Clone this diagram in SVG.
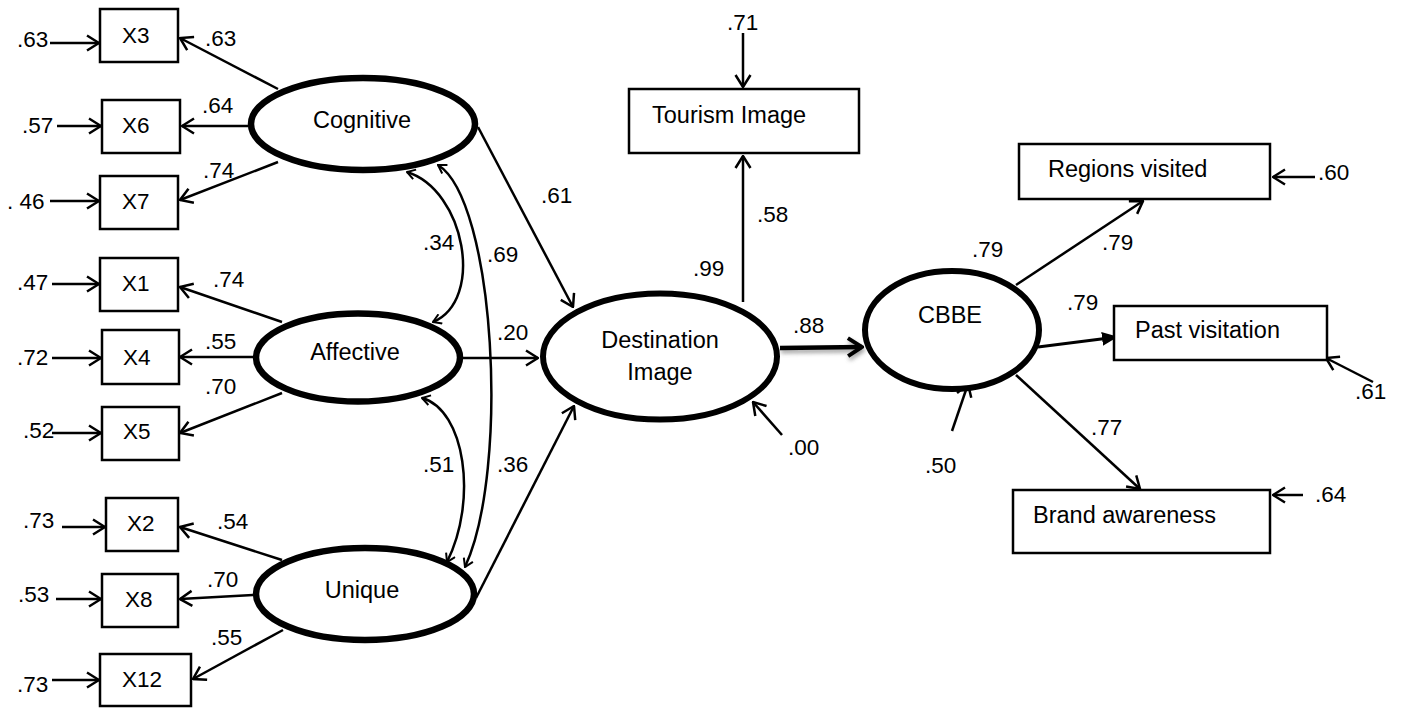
<svg xmlns="http://www.w3.org/2000/svg" width="1402" height="708" viewBox="0 0 1402 708">
<style>
text{font-family:"Liberation Sans",Arial,sans-serif;font-size:22.5px;fill:#000}
.nl{font-size:23.5px}
.box{fill:#fff;stroke:#000;stroke-width:2.5}
.lat{fill:#fff;stroke:#000;stroke-width:6.5}
.ln{fill:none;stroke:#000;stroke-width:2.5;marker-end:url(#arr)}
.cv{fill:none;stroke:#000;stroke-width:2.5;marker-start:url(#sarr);marker-end:url(#sarr)}
.mid{text-anchor:middle}
</style>
<defs>
<marker id="arr" viewBox="0 0 14 18" refX="13" refY="9" markerWidth="14" markerHeight="18" markerUnits="userSpaceOnUse" orient="auto">
<path d="M1,1.5 L13,9 L1,16.5" fill="none" stroke="#000" stroke-width="2.5"/>
</marker>
<marker id="sarr" viewBox="0 0 10 12" refX="9" refY="6" markerWidth="10" markerHeight="12" markerUnits="userSpaceOnUse" orient="auto-start-reverse">
<path d="M1,1 L9,6 L1,11" fill="none" stroke="#000" stroke-width="2"/>
</marker>
<marker id="farr" viewBox="0 0 16 14" refX="15" refY="7" markerWidth="16" markerHeight="14" markerUnits="userSpaceOnUse" orient="auto">
<path d="M0,0 L16,7 L0,14 z" fill="#000"/>
</marker>
<marker id="tarr" viewBox="0 0 18 22" refX="16" refY="11" markerWidth="18" markerHeight="22" markerUnits="userSpaceOnUse" orient="auto">
<path d="M2,2 L16,11 L2,20" fill="none" stroke="#000" stroke-width="4"/>
</marker>
<marker id="tarrs" viewBox="0 0 18 22" refX="16" refY="11" markerWidth="18" markerHeight="22" markerUnits="userSpaceOnUse" orient="auto">
<path d="M2,2 L16,11 L2,20" fill="none" stroke="#888" stroke-width="4"/>
</marker>
<filter id="blur" filterUnits="userSpaceOnUse" x="760" y="320" width="130" height="60">
<feGaussianBlur stdDeviation="2"/>
</filter>
</defs>

<g id="connectors">
<!-- error arrows left -->
<line class="ln" x1="50" y1="43" x2="99" y2="43"/>
<line class="ln" x1="57" y1="126" x2="101" y2="126"/>
<line class="ln" x1="50" y1="201" x2="99" y2="201"/>
<line class="ln" x1="52" y1="284" x2="99" y2="284"/>
<line class="ln" x1="52" y1="358" x2="101" y2="358"/>
<line class="ln" x1="52" y1="433" x2="101" y2="433"/>
<line class="ln" x1="62" y1="527" x2="105" y2="527"/>
<line class="ln" x1="56" y1="599" x2="101" y2="599"/>
<line class="ln" x1="52" y1="680" x2="99" y2="680"/>
<!-- loadings -->
<line class="ln" x1="278" y1="89" x2="180" y2="38"/>
<line class="ln" x1="248" y1="126" x2="182" y2="126"/>
<line class="ln" x1="278" y1="162" x2="180" y2="200"/>
<line class="ln" x1="282" y1="322" x2="180" y2="287"/>
<line class="ln" x1="253" y1="357" x2="180" y2="357"/>
<line class="ln" x1="282" y1="393" x2="180" y2="433"/>
<line class="ln" x1="282" y1="560" x2="180" y2="527"/>
<line class="ln" x1="253" y1="595" x2="180" y2="599"/>
<line class="ln" x1="283" y1="630" x2="193" y2="679"/>
<!-- correlations -->
<path class="cv" d="M407,172 C465,190 485,300 433,322"/>
<path class="cv" d="M438,165 C495,200 510,470 465,567"/>
<path class="cv" d="M422,398 C465,410 478,500 447,562"/>
<!-- to destination image -->
<line class="ln" x1="478" y1="127" x2="573" y2="307"/>
<line class="ln" x1="462" y1="358" x2="538" y2="358"/>
<line class="ln" x1="476" y1="598" x2="574" y2="406"/>
<!-- destination image outgoing -->
<line class="ln" x1="743" y1="302" x2="743" y2="156"/>
<line class="ln" x1="743" y1="33" x2="743" y2="87"/>
<line class="ln" x1="782" y1="435" x2="753" y2="402"/>
<line x1="781" y1="351" x2="863" y2="350" stroke="#888" stroke-width="4.5" marker-end="url(#tarrs)" filter="url(#blur)" opacity="0.8"/>
<line x1="780" y1="348" x2="862" y2="347" stroke="#000" stroke-width="4.5" marker-end="url(#tarr)"/>
<!-- CBBE outgoing -->
<line class="ln" x1="1016" y1="285" x2="1143" y2="201"/>
<line x1="1038" y1="347" x2="1117" y2="337" stroke="#000" stroke-width="3" marker-end="url(#farr)"/>
<line class="ln" x1="1016" y1="375" x2="1140" y2="489"/>
<line class="ln" x1="952" y1="431" x2="968" y2="384"/>
<line class="ln" x1="1315" y1="177" x2="1273" y2="177"/>
<line class="ln" x1="1373" y1="382" x2="1326" y2="358"/>
<line class="ln" x1="1303" y1="495" x2="1273" y2="495"/>
</g>

<g id="X3"><rect class="box" x="100" y="9" width="78" height="53"/><text x="122" y="43">X3</text></g>
<g id="X6"><rect class="box" x="102" y="100" width="78" height="53"/><text x="122" y="133">X6</text></g>
<g id="X7"><rect class="box" x="100" y="176" width="78" height="53"/><text x="122" y="209">X7</text></g>
<g id="X1"><rect class="box" x="100" y="258" width="78" height="53"/><text x="122" y="291">X1</text></g>
<g id="X4"><rect class="box" x="102" y="330" width="77" height="54"/><text x="123" y="365">X4</text></g>
<g id="X5"><rect class="box" x="102" y="407" width="77" height="53"/><text x="123" y="439">X5</text></g>
<g id="X2"><rect class="box" x="106" y="498" width="72" height="53"/><text x="127" y="531">X2</text></g>
<g id="X8"><rect class="box" x="102" y="574" width="76" height="53"/><text x="125" y="607">X8</text></g>
<g id="X12"><rect class="box" x="100" y="654" width="91" height="52"/><text x="122" y="687">X12</text></g>

<g id="Cognitive"><ellipse class="lat" cx="363" cy="124" rx="112" ry="46"/><text class="mid nl" x="362" y="128">Cognitive</text></g>
<g id="Affective"><ellipse class="lat" cx="358" cy="357.5" rx="102" ry="44"/><text class="mid nl" x="355" y="360">Affective</text></g>
<g id="Unique"><ellipse class="lat" cx="365" cy="594" rx="109" ry="46"/><text class="mid nl" x="362" y="598">Unique</text></g>
<g id="DestinationImage"><ellipse class="lat" cx="660" cy="356.5" rx="117" ry="63" style="stroke-width:6"/><text class="mid nl" x="660" y="348">Destination</text><text class="mid nl" x="660" y="380">Image</text></g>
<g id="CBBE"><ellipse class="lat" cx="952" cy="330" rx="87" ry="59" style="stroke-width:6"/><text class="mid nl" x="950" y="323">CBBE</text></g>
<g id="TourismImage"><rect class="box" x="629" y="89" width="230" height="64"/><text class="nl" x="652" y="123">Tourism Image</text></g>
<g id="RegionsVisited"><rect class="box" x="1019" y="144" width="251" height="55"/><text class="nl" x="1048" y="177">Regions visited</text></g>
<g id="PastVisitation"><rect class="box" x="1114" y="306" width="213" height="54"/><text class="nl" x="1135" y="338">Past visitation</text></g>
<g id="BrandAwareness"><rect class="box" x="1013" y="490" width="257" height="63"/><text class="nl" x="1033" y="523">Brand awareness</text></g>

<g id="labels">
<text x="17" y="47">.63</text>
<text x="205" y="46">.63</text>
<text x="22" y="133">.57</text>
<text x="202" y="113">.64</text>
<text x="203" y="178">.74</text>
<text x="7" y="209">. 46</text>
<text x="17" y="290">.47</text>
<text x="213" y="287">.74</text>
<text x="17" y="365">.72</text>
<text x="205" y="349">.55</text>
<text x="205" y="394">.70</text>
<text x="23" y="438">.52</text>
<text x="23" y="528">.73</text>
<text x="217" y="529">.54</text>
<text x="18" y="602">.53</text>
<text x="207" y="587">.70</text>
<text x="211" y="645">.55</text>
<text x="17" y="692">.73</text>
<text x="727" y="30">.71</text>
<text x="541" y="203">.61</text>
<text x="757" y="222">.58</text>
<text x="693" y="276">.99</text>
<text x="423" y="250">.34</text>
<text x="487" y="262">.69</text>
<text x="497" y="340">.20</text>
<text x="793" y="333">.88</text>
<text x="788" y="455">.00</text>
<text x="423" y="472">.51</text>
<text x="497" y="472">.36</text>
<text x="972" y="257">.79</text>
<text x="1102" y="250">.79</text>
<text x="1318" y="180">.60</text>
<text x="1067" y="310">.79</text>
<text x="1355" y="399">.61</text>
<text x="1091" y="435">.77</text>
<text x="925" y="473">.50</text>
<text x="1315" y="502">.64</text>
</g>
</svg>
